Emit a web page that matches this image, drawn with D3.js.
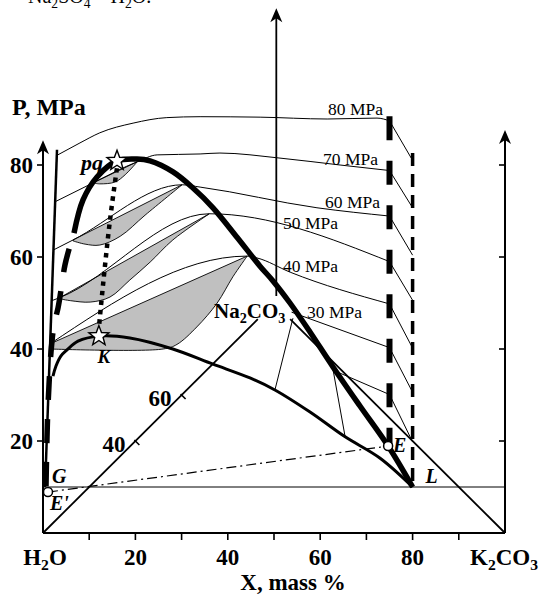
<!DOCTYPE html>
<html><head><meta charset="utf-8">
<script src="https://cdn.jsdelivr.net/npm/d3@7"></script>
<style>body{margin:0;background:#fff}svg{display:block}</style>
</head><body>
<svg id="c" width="544" height="597"></svg>
<script>
// ---------- data (X = mass %, P = MPa) ----------
const xTicks = [10,20,30,40,50,60,70,80,90];
const xTickLabels = [20,40,60,80];
const pTicks = [20,40,60,80];
const ternaryTicks = [40,60];
const isobarNames = ["80 MPa","70 MPa","60 MPa","50 MPa","40 MPa","30 MPa"];

const outerDashed = [[0.65,10.2],[0.76,15.9],[0.97,24.6],[1.30,32.2],[1.73,39.3],[2.38,45.2],[3.25,48.9],[3.9,52.8],[4.76,58.3],[5.84,62.4],[6.71,65.2]];
const outerSolid = [[6.71,65.2],[8.66,72.4],[11.69,77.4],[16.02,80.9],[20.35,81.3],[23.16,80.9],[28.14,78.5],[32.47,75.0],[36.8,70.7],[41.99,64.3],[46.97,58.0],[49.78,54.8],[53.46,50.0],[57.79,43.7],[62.77,36.1],[68.61,27.6],[74.7,18.9],[80,10]];
const lowerCurve = [[2.16,34.1],[2.81,36.3],[3.9,38.5],[5.19,39.8],[7.58,41.7],[12.1,42.8],[18.8,42.4],[28.1,40.0],[36.8,36.7],[44.8,33.7],[50.2,31.1],[57.8,26.3],[65.4,20.9],[72.9,16.3],[80,10]];
const steepLine = [[0.45,10],[3.03,83.3]];
const dottedLine = [[16,79.3],[14.5,68],[13,54],[12.1,44.6]];
const dashDot = [[1.08,8.9],[74.7,18.9]];
const levelLineP = 10;

const isobar80 = [[3.2,82.2],[8,84.8],[12.3,87],[19.5,89.1],[26.8,90.3],[34,90.5],[47,90.4],[61.5,90],[72.3,90.2],[75,89.6]];
const isobar70 = [[2.6,72],[10.8,76.1],[20.4,80.7],[24.7,82.2],[34,82.4],[38.3,82.6],[51.3,81.5],[64.3,80],[75,78.8]];
const isobar60 = [[2.2,61.5],[6.5,63.7],[30.1,75.7],[34,75.2],[59.3,70.7],[75,68.9]];
const isobar50 = [[1.9,50.5],[3.7,51.2],[36,69.4],[75,59]];
const isobar40 = [[1.5,41.1],[44.2,60.2],[46.3,59.8],[53.5,56.7],[75,49.8]];
const isobar30 = [[53.8,48],[75,40.3]];
const isobar20 = [[62.8,35.4],[75,30.1]];
const isobarEndsAt80 = [81,70.7,60.4,50.6,40.2,30.6,19.8];

const lens70Top = [[10.8,76.1],[20.4,80.7]];
const lens70Bottom = [[20.4,80.7],[17.8,77.9],[15.6,76.3],[12.3,75.9],[10.8,76.1]];
const lens60Top = [[6.5,63.7],[30.1,75.7]];
const lens60Bottom = [[30.1,75.7],[22.1,69.1],[16.7,64.5],[12.3,62.6],[9.1,62.8],[6.5,63.5]];
const lens50Top = [[3.7,51.2],[36,69.4]];
const lens50Bottom = [[36,69.4],[28.1,63.7],[23.2,58.9],[18.8,55],[14.5,51.3],[10.2,50.2],[6,50.5],[3.7,50.9]];
const lens40Top = [[1.5,41.1],[44.2,60.2]];
const lens40Bottom = [[44.2,60.2],[41.1,55.7],[37.7,50],[33.3,44.8],[29,41],[26,40],[1.5,40]];

const triLeft = [[0,0],[46.5,46.5]];
const triRight = [[100,0],[53.5,46.5]];
const tieLines = [[[54.1,46.7],[50.2,31.1]],[[62.8,35.4],[65.4,20.9]]];
const apex = [50,50];
const centerAxisX = 50.5, centerAxisP = [51.5,114.1];
const leftAxisTop = 85.4, rightAxisTop = 87.6;
const thickDashV = {x:75, p:[90.6,18.9]};
const thinDashV = {x:80, p:[82.6,10]};
const ptPQ = [16.02,80.9], ptK = [12.1,42.8], ptE = [74.7,18.9], ptE1 = [1.08,8.9], ptG=[0.65,10], ptL=[80,10];

// ---------- drawing ----------
const X = d3.scaleLinear().domain([0,100]).range([43,505]);
const Y = d3.scaleLinear().domain([0,80]).range([533,165]);
const svg = d3.select("#c");
const serif = "'Liberation Serif','Times New Roman',serif";
const lin = d3.line().x(d=>X(d[0])).y(d=>Y(d[1]));
const cr = d3.line().x(d=>X(d[0])).y(d=>Y(d[1])).curve(d3.curveCatmullRom.alpha(0.5));
const mono = d3.line().x(d=>X(d[0])).y(d=>Y(d[1])).curve(d3.curveMonotoneX);

function stroke(sel,w){return sel.attr("fill","none").attr("stroke","#000").attr("stroke-width",w);}

// lenses
[[lens70Top,lens70Bottom],[lens60Top,lens60Bottom],[lens50Top,lens50Bottom],[lens40Top,lens40Bottom]].forEach(([t,b])=>{
  const d = "M"+X(t[0][0])+","+Y(t[0][1])+"L"+X(t[1][0])+","+Y(t[1][1])+cr(b).replace(/^M/,"L")+"Z";
  svg.append("path").attr("d",d).attr("fill","#c0c0c0").attr("stroke","#000").attr("stroke-width",0.9);
});

// isobars
const isobars=[isobar80,isobar70,isobar60,isobar50,isobar40,isobar30,isobar20];
isobars.forEach((iso,i)=>{
  stroke(svg.append("path").attr("d",mono(iso)),1);
  const last=iso[iso.length-1];
  stroke(svg.append("path").attr("d",lin([last,[80,isobarEndsAt80[i]]])),1);
});

// base level line, triangle
stroke(svg.append("path").attr("d",lin([[0,levelLineP],[100,levelLineP]])),1);
stroke(svg.append("path").attr("d",lin(triLeft)),1.8);
stroke(svg.append("path").attr("d",lin(triRight)),1.8);
tieLines.forEach(t=>stroke(svg.append("path").attr("d",lin(t)),1));

// ternary ticks
ternaryTicks.forEach(v=>{
  const f=v/100, px=X(apex[0]*f), py=Y(apex[1]*f);
  stroke(svg.append("line").attr("x1",px-1).attr("y1",py-1).attr("x2",px+4).attr("y2",py+4),1.6);
  svg.append("text").attr("x",px-10).attr("y",py+11).attr("text-anchor","end")
    .attr("font-family",serif).attr("font-weight","bold").attr("font-size",23).text(v);
});

// axes
function arrow(px,py){
  svg.append("path").attr("d",`M${px},${py}L${px-6},${py+14}L${px},${py+10}L${px+6},${py+14}Z`).attr("fill","#000");
}
stroke(svg.append("line").attr("x1",X(0)).attr("x2",X(100)).attr("y1",Y(0)).attr("y2",Y(0)),2);
stroke(svg.append("line").attr("x1",X(0)).attr("x2",X(0)).attr("y1",Y(0)).attr("y2",Y(leftAxisTop)+8),2);
arrow(X(0),Y(leftAxisTop));
stroke(svg.append("line").attr("x1",X(100)).attr("x2",X(100)).attr("y1",Y(0)).attr("y2",Y(rightAxisTop)+8),2);
arrow(X(100),Y(rightAxisTop));
stroke(svg.append("line").attr("x1",X(centerAxisX)).attr("x2",X(centerAxisX)).attr("y1",Y(centerAxisP[0])).attr("y2",Y(centerAxisP[1])+8),1.8);
arrow(X(centerAxisX),Y(centerAxisP[1]));

xTicks.forEach(v=>stroke(svg.append("line").attr("x1",X(v)).attr("x2",X(v)).attr("y1",Y(0)).attr("y2",Y(0)+7),1.6));
pTicks.forEach(v=>{
  stroke(svg.append("line").attr("x1",X(0)-6).attr("x2",X(0)).attr("y1",Y(v)).attr("y2",Y(v)),1.6);
  stroke(svg.append("line").attr("x1",X(100)-6).attr("x2",X(100)).attr("y1",Y(v)).attr("y2",Y(v)),1.6);
  svg.append("text").attr("x",X(0)-10).attr("y",Y(v)+8).attr("text-anchor","end")
    .attr("font-family",serif).attr("font-weight","bold").attr("font-size",23).text(v);
});
xTickLabels.forEach(v=>svg.append("text").attr("x",X(v)).attr("y",565).attr("text-anchor","middle")
    .attr("font-family",serif).attr("font-weight","bold").attr("font-size",23).text(v));

// other lines
stroke(svg.append("path").attr("d",lin(steepLine)),2.5);
stroke(svg.append("path").attr("d",lin(dashDot)),1.2).attr("stroke-dasharray","10,4,2,4");
stroke(svg.append("path").attr("d",cr(dottedLine)),4.5).attr("stroke-dasharray","4.5,5");
stroke(svg.append("path").attr("d",cr(lowerCurve)),3);
stroke(svg.append("path").attr("d",lin([[thinDashV.x,thinDashV.p[0]],[thinDashV.x,thinDashV.p[1]]])),3.5).attr("stroke-dasharray","13,8");
stroke(svg.append("path").attr("d",lin([[thickDashV.x,thickDashV.p[0]],[thickDashV.x,thickDashV.p[1]]])),6).attr("stroke-dasharray","24,20.5");
stroke(svg.append("path").attr("d",cr(outerDashed)),5.5).attr("stroke-dasharray","24,19");
stroke(svg.append("path").attr("d",cr(outerSolid)),5.5).attr("stroke-linejoin","round");

// stars
function star(p){
  const cx=X(p[0]), cy=Y(p[1]), R=10.5, r=4.4; let pts=[];
  for(let i=0;i<10;i++){const a=-Math.PI/2+i*Math.PI/5, rr=i%2?r:R; pts.push([cx+rr*Math.cos(a),cy+rr*Math.sin(a)]);}
  svg.append("path").attr("d","M"+pts.join("L")+"Z").attr("fill","#fff").attr("stroke","#000").attr("stroke-width",1.4);
}
star(ptPQ); star(ptK);
[ptE,ptE1].forEach(p=>svg.append("circle").attr("cx",X(p[0])).attr("cy",Y(p[1])).attr("r",4.5).attr("fill","#fff").attr("stroke","#000").attr("stroke-width",1.5));

// isobar labels
const labelPos = [[383,115,"end"],[378,165,"end"],[380,208,"end"],[283,229,"start"],[283,272,"start"],[307,318,"start"]];
isobarNames.forEach((t,i)=>svg.append("text").attr("x",labelPos[i][0]).attr("y",labelPos[i][1]).attr("text-anchor",labelPos[i][2])
  .attr("font-family",serif).attr("font-size",17.5).text(t));

// chemistry text helper
function chem(x,y,parts,opts){
  const t=svg.append("text").attr("x",x).attr("y",y).attr("font-family",serif).attr("font-size",opts.size)
    .attr("font-weight",opts.weight||"normal").attr("text-anchor",opts.anchor||"start");
  let shifted=false;
  parts.forEach(([s,sub])=>{
    const ts=t.append("tspan").text(s);
    if(sub&&!shifted){ts.attr("font-size",opts.size*0.68).attr("dy",opts.shift);shifted=true;}
    else if(sub){ts.attr("font-size",opts.size*0.68);}
    else if(shifted){ts.attr("dy",-opts.shift);shifted=false;}
  });
  return t;
}
chem(28,3,[["Na"],["2",1],["SO"],["4",1],[" – H"],["2",1],["O."]],{size:20,shift:5});
chem(X(0)+2,565,[["H"],["2",1],["O"]],{size:23,weight:"bold",anchor:"middle",shift:5});
chem(X(100)-1,565,[["K"],["2",1],["CO"],["3",1]],{size:23,weight:"bold",anchor:"middle",shift:5});
chem(214,318,[["Na"],["2",1],["CO"],["3",1]],{size:21,weight:"bold",shift:5});

const txt=(x,y,s,size,style,anchor)=>svg.append("text").attr("x",x).attr("y",y).attr("font-family",serif)
  .attr("font-size",size).attr("font-weight","bold").attr("font-style",style||"normal").attr("text-anchor",anchor||"start").text(s);
txt(12,115,"P, MPa",24);
txt(293,590,"X, mass %",23,"normal","middle");
txt(X(ptPQ[0])-14,Y(ptPQ[1])+9,"pq",22,"italic","end");
txt(X(ptK[0])+5,363,"K",19,"italic","middle");
txt(X(ptG[0])+6,483,"G",20,"italic");
txt(X(ptE1[0])+2,510,"E'",20,"italic");
txt(X(ptE[0])+5,452,"E",20,"italic");
txt(X(ptL[0])+13,483,"L",20,"italic");
</script>
</body></html>
